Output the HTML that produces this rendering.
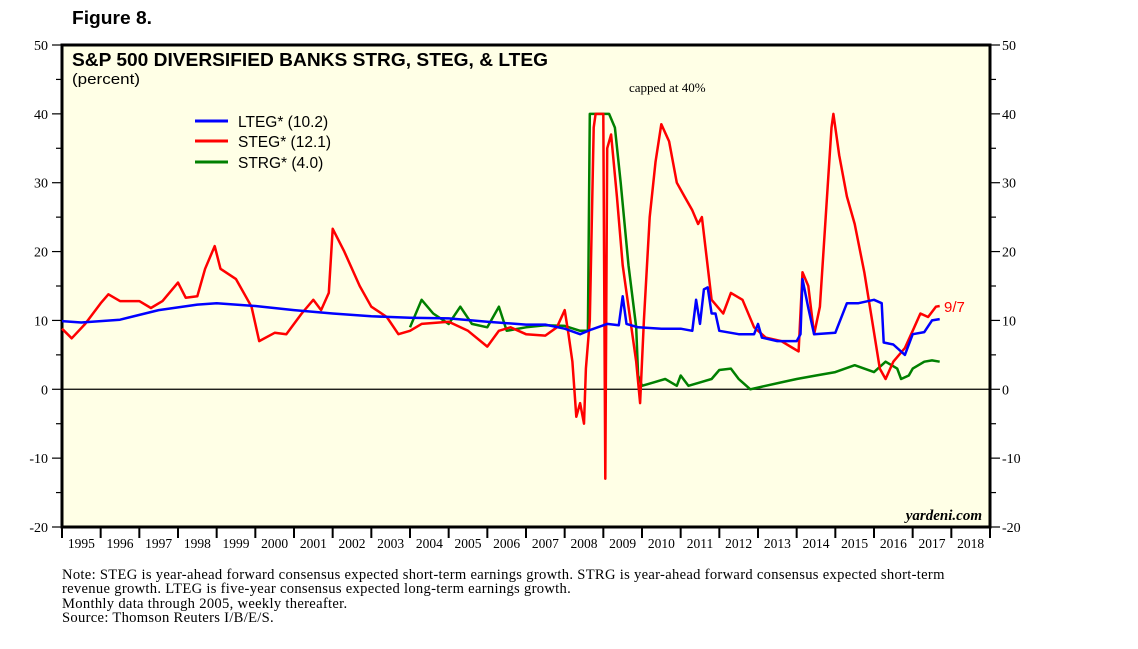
<!DOCTYPE html>
<html><head><meta charset="utf-8"><style>
body{margin:0;background:#fff;width:1138px;height:649px;overflow:hidden;font-family:"Liberation Sans",sans-serif;}
svg{position:absolute;left:0;top:0}
.note{position:absolute;left:62px;top:568px;font-family:"Liberation Serif",serif;font-size:14.6px;letter-spacing:0.3px;line-height:14.3px;color:#000;width:1000px;white-space:nowrap}
</style></head><body>
<svg width="1138" height="649">
<rect x="62" y="45" width="928" height="482" fill="#ffffe6" stroke="#000" stroke-width="3"/>
<text x="72" y="24" font-size="18" font-weight="bold" font-family="Liberation Sans" textLength="80" lengthAdjust="spacingAndGlyphs">Figure 8.</text>
<text x="72" y="66" font-size="18" font-weight="bold" font-family="Liberation Sans" textLength="476" lengthAdjust="spacingAndGlyphs">S&amp;P 500 DIVERSIFIED BANKS STRG, STEG, &amp; LTEG</text>
<text x="72" y="84" font-size="15" font-family="Liberation Sans" textLength="68" lengthAdjust="spacingAndGlyphs">(percent)</text>
<text x="629" y="92" font-size="13" font-family="Liberation Serif">capped at 40%</text>
<text x="982" y="520" font-size="15" font-style="italic" font-weight="bold" text-anchor="end" font-family="Liberation Serif">yardeni.com</text>
<g id="axes"></g><g id="series"></g>
<g>
<line x1="195" y1="121" x2="228" y2="121" stroke="#0000ff" stroke-width="3"/><text x="238" y="127" font-size="15.5">LTEG* (10.2)</text>
<line x1="195" y1="141" x2="228" y2="141" stroke="#ff0000" stroke-width="3"/><text x="238" y="147" font-size="15.5">STEG* (12.1)</text>
<line x1="195" y1="162" x2="228" y2="162" stroke="#008000" stroke-width="3"/><text x="238" y="168" font-size="15.5">STRG* (4.0)</text>
</g>
<text x="944" y="312" font-size="15" fill="#ff0000">9/7</text>
</svg>
<div class="note">Note: STEG is year-ahead forward consensus expected short-term earnings growth. STRG is year-ahead forward consensus expected short-term<br>revenue growth. LTEG is five-year consensus expected long-term earnings growth.<br>Monthly data through 2005, weekly thereafter.<br>Source: Thomson Reuters I/B/E/S.</div>
<script>
const yTicks=[50,40,30,20,10,0,-10,-20];
const years=[1995,1996,1997,1998,1999,2000,2001,2002,2003,2004,2005,2006,2007,2008,2009,2010,2011,2012,2013,2014,2015,2016,2017,2018];
const ltegX=[1995,1995.5,1996.5,1997.5,1998.5,1999,2000,2001,2002,2003,2004,2005,2006,2007,2007.5,2008,2008.4,2008.7,2009.1,2009.4,2009.5,2009.6,2009.9,2010.5,2011,2011.3,2011.4,2011.5,2011.6,2011.7,2011.8,2011.9,2012,2012.5,2012.9,2013,2013.1,2013.5,2014,2014.1,2014.15,2014.3,2014.45,2015,2015.3,2015.6,2016,2016.2,2016.25,2016.5,2016.8,2017,2017.3,2017.5,2017.7];
const ltegY=[9.9,9.7,10.1,11.5,12.3,12.5,12.1,11.5,11.0,10.6,10.4,10.3,9.8,9.4,9.4,8.8,8.0,8.7,9.5,9.3,13.5,9.5,9.0,8.8,8.8,8.5,13,9.5,14.5,14.8,11,11,8.5,8.0,8.0,9.5,7.5,7.0,7.0,8.0,16,11.8,8.0,8.2,12.5,12.5,13,12.5,6.8,6.5,5.0,8.0,8.3,10.0,10.2];
const stegX=[1995,1995.25,1995.6,1996,1996.2,1996.5,1997,1997.3,1997.6,1998,1998.2,1998.5,1998.7,1998.95,1999.1,1999.5,1999.9,2000.1,2000.5,2000.8,2001.2,2001.5,2001.7,2001.9,2002,2002.3,2002.7,2003,2003.4,2003.7,2004,2004.3,2005,2005.5,2006,2006.3,2006.6,2007,2007.5,2007.8,2008,2008.1,2008.2,2008.3,2008.4,2008.5,2008.55,2008.65,2008.75,2008.8,2009,2009.05,2009.1,2009.2,2009.35,2009.5,2009.7,2009.85,2009.95,2010.05,2010.2,2010.35,2010.5,2010.7,2010.9,2011.1,2011.3,2011.45,2011.55,2011.8,2012.1,2012.3,2012.6,2012.9,2013.2,2013.6,2013.9,2014.05,2014.15,2014.3,2014.45,2014.6,2014.75,2014.9,2014.95,2015.1,2015.3,2015.5,2015.75,2015.95,2016.15,2016.3,2016.5,2016.8,2017,2017.2,2017.4,2017.6,2017.7];
const stegY=[8.8,7.4,9.5,12.5,13.8,12.8,12.8,11.8,12.8,15.5,13.3,13.5,17.5,20.8,17.5,16,12,7,8.2,8,11,13,11.5,14,23.3,20,15,12,10.5,8,8.5,9.5,9.8,8.5,6.2,8.5,9.0,8.0,7.8,9.0,11.5,8,4,-4,-2,-5,3,10,38,40,40,-13,35,37,28,18,10,4,-2,10,25,33,38.5,36,30,28,26,24,25,13,11,14,13,9,7.5,7,6,5.5,17,15,8,12,25,38,40,34,28,24,17,10,3,1.5,4,6,8.5,11,10.5,12,12.1];
const strgX=[2004,2004.3,2004.6,2005,2005.3,2005.6,2006,2006.3,2006.5,2007,2007.5,2008,2008.4,2008.6,2008.65,2009.15,2009.3,2009.45,2009.65,2009.85,2009.9,2010,2010.3,2010.6,2010.9,2011,2011.2,2011.5,2011.8,2012,2012.3,2012.5,2012.8,2013.2,2013.6,2014,2014.5,2015,2015.5,2016,2016.3,2016.6,2016.7,2016.9,2017,2017.3,2017.5,2017.7];
const strgY=[9,13,11,9.5,12,9.5,9,12,8.5,9,9.3,9.2,8.5,8.5,40,40,38,30,18,9,2,0.5,1,1.5,0.5,2,0.5,1,1.5,2.8,3,1.5,0,0.5,1,1.5,2,2.5,3.5,2.5,4,3,1.5,2,3,4,4.2,4.0];
const NS='http://www.w3.org/2000/svg';
const X=yr=>62+(yr-1995)*(928/24);
const Y=v=>45+(50-v)*(482/70);
const axes=document.getElementById('axes'),ser=document.getElementById('series');
function mk(tag,attrs,parent){const e=document.createElementNS(NS,tag);for(const k in attrs)e.setAttribute(k,attrs[k]);parent.appendChild(e);return e;}
let zl=mk('line',{x1:62,x2:990,y1:Y(0),y2:Y(0),stroke:'#000','stroke-width':1.2},axes);


for(let v=50;v>=-20;v-=5){
 const isMaj=v%10===0,len=isMaj?10:6;
 mk('line',{x1:62-len,x2:62,y1:Y(v),y2:Y(v),stroke:'#000','stroke-width':1.2},axes);
 mk('line',{x1:990,x2:990+len,y1:Y(v),y2:Y(v),stroke:'#000','stroke-width':1.2},axes);
}
yTicks.forEach(v=>{
 const t=mk('text',{x:48,y:Y(v)+5,'font-size':14,'text-anchor':'end','font-family':'Liberation Serif'},axes);t.textContent=v;
 
 
 const r=mk('text',{x:1002,y:Y(v)+5,'font-size':14,'font-family':'Liberation Serif'},axes);r.textContent=v;
 
 
});
years.forEach(yr=>{
 mk('line',{x1:X(yr),x2:X(yr),y1:527,y2:538,stroke:'#000','stroke-width':2},axes);
 const t=mk('text',{x:X(yr+0.5),y:548,'font-size':13.5,'text-anchor':'middle','font-family':'Liberation Serif'},axes);t.textContent=yr;
 
 
});
mk('line',{x1:990,x2:990,y1:527,y2:538,stroke:'#000','stroke-width':2},axes);
function line(xs,ys,col,name){
 const p=mk('polyline',{points:xs.map((x,i)=>X(x).toFixed(1)+','+Y(ys[i]).toFixed(1)).join(' '),fill:'none',stroke:col,'stroke-width':2.5,'stroke-linejoin':'round'},ser);
 
 
}
line(strgX,strgY,'#008000','strg-line');
line(stegX,stegY,'#ff0000','steg-line');
line(ltegX,ltegY,'#0000ff','lteg-line');
</script>
</body></html>
